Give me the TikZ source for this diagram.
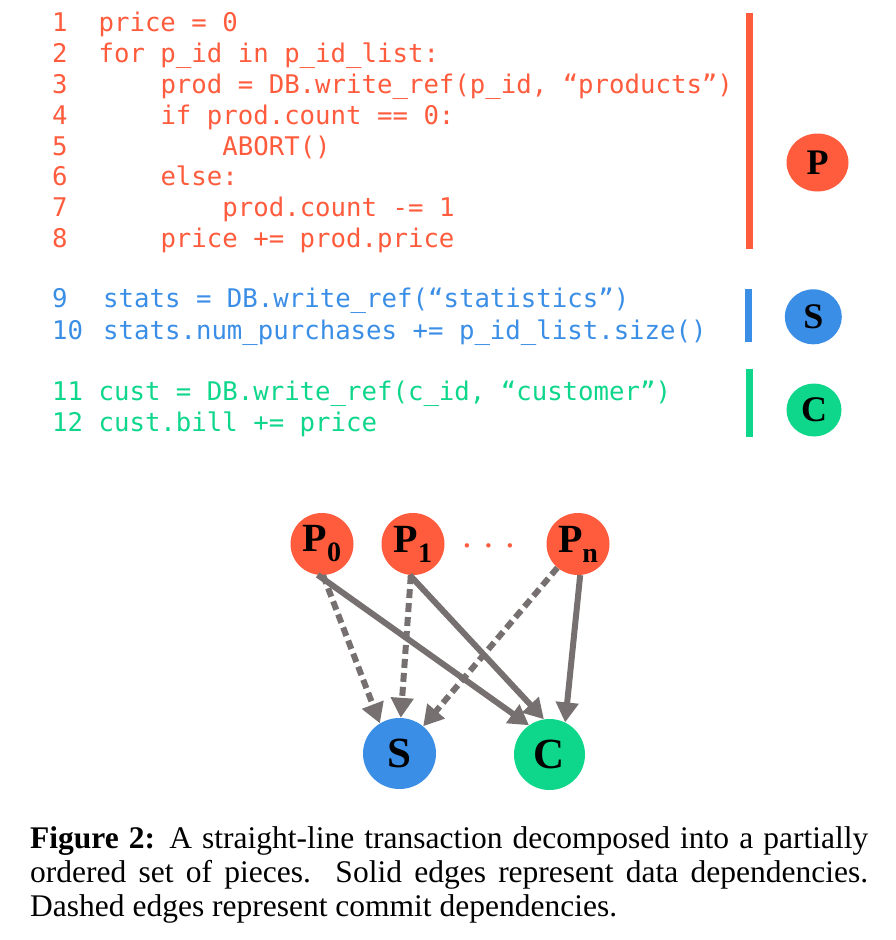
\documentclass[tikz,border=0pt]{standalone}
\usepackage{fontspec}
\setmainfont{Liberation Serif}
\newfontfamily\codefont{DejaVu Sans Mono}
\usetikzlibrary{shapes.geometric,arrows.meta}
\definecolor{pieceRed}{RGB}{255,91,61}
\definecolor{pieceBlue}{RGB}{59,142,230}
\definecolor{pieceGreen}{RGB}{14,214,138}
\definecolor{edgeGray}{RGB}{118,112,112}
\newcommand{\us}{\char95\relax}
\newcommand{\piecesub}[1]{P\raisebox{-10pt}{\fontsize{28}{28}\selectfont #1}}
\begin{document}
\begin{tikzpicture}[x=1pt, y=-1pt,
    codeline/.style={anchor=base west, inner sep=0, font=\fontsize{25.7}{31}\codefont},
    bar/.style={line width=6.5pt},
    piece/.style={ellipse, inner sep=0, font=\fontsize{36}{36}\selectfont\bfseries},
    dep/.style={draw=edgeGray, line width=6pt, -{Triangle[length=20pt, width=22pt]}},
    data/.style={dep},
    commit/.style={dep, dash pattern=on 9pt off 5pt}]
    \useasboundingbox (0,0) rectangle (896,940);
    % code, line numbers
    \foreach \n/\y/\c in {1/31/pieceRed, 2/62/pieceRed, 3/93/pieceRed, 4/124/pieceRed,
        5/155/pieceRed, 6/185/pieceRed, 7/216/pieceRed, 8/247/pieceRed,
        9/307/pieceBlue, 10/339/pieceBlue, 11/400/pieceGreen, 12/431/pieceGreen}
        \node[codeline, text=\c] (num\n) at (52,\y) {\n};
    \node[codeline, text=pieceRed] (line1) at (98.4,31) {price = 0};
    \node[codeline, text=pieceRed] (line2) at (98.4,62) {for p\us id in p\us id\us list:};
    \node[codeline, text=pieceRed] (line3) at (160.3,93) {prod = DB.write\us ref(p\us id, “products”)};
    \node[codeline, text=pieceRed] (line4) at (160.3,124) {if prod.count == 0:};
    \node[codeline, text=pieceRed] (line5) at (222.2,155) {ABORT()};
    \node[codeline, text=pieceRed] (line6) at (160.3,185) {else:};
    \node[codeline, text=pieceRed] (line7) at (222.2,216) {prod.count -= 1};
    \node[codeline, text=pieceRed] (line8) at (160.3,247) {price += prod.price};
    \node[codeline, text=pieceBlue] (line9) at (103,307) {stats = DB.write\us ref(“statistics”)};
    \node[codeline, text=pieceBlue] (line10) at (103,339) {stats.num\us purchases += p\us id\us list.size()};
    \node[codeline, text=pieceGreen] (line11) at (98.4,400) {cust = DB.write\us ref(c\us id, “customer”)};
    \node[codeline, text=pieceGreen] (line12) at (98.4,431) {cust.bill += price};
    % pieces
    \draw[bar, pieceRed] (749.5,13) -- (749.5,249);
    \draw[bar, pieceBlue] (748.5,289) -- (748.5,342);
    \draw[bar, pieceGreen] (749.5,369) -- (749.5,437);
    \node[piece, fill=pieceRed, minimum width=62pt, minimum height=58pt] (P) at (817.5,162.5) {P};
    \node[piece, fill=pieceBlue, minimum width=57pt, minimum height=55pt] (S) at (813.3,316.8) {S};
    \node[piece, fill=pieceGreen, minimum width=55pt, minimum height=53pt] (C) at (814,410) {C};
    % graph
    \node[piece, fill=pieceRed, minimum width=63pt, minimum height=62pt, font=\fontsize{40}{40}\selectfont\bfseries] (P0) at (322,544) {\piecesub{0}};
    \node[piece, fill=pieceRed, minimum width=63pt, minimum height=62pt, font=\fontsize{40}{40}\selectfont\bfseries] (P1) at (413,544) {\piecesub{1}};
    \node[piece, fill=pieceRed, minimum width=63pt, minimum height=62pt, font=\fontsize{40}{40}\selectfont\bfseries] (Pn) at (578,544) {\piecesub{n}};
    \node[anchor=base, inner sep=0, text=pieceRed, font=\fontsize{37}{37}\selectfont] (dots) at (488.5,547) {. . .};
    \node[piece, fill=pieceBlue, minimum width=73pt, minimum height=71pt, font=\fontsize{43}{43}\selectfont\bfseries] (Sg) at (399.5,753.5) {S};
    \node[piece, fill=pieceGreen, minimum width=71pt, minimum height=71pt, font=\fontsize{43}{43}\selectfont\bfseries] (Cg) at (549.5,754.5) {C};
    \draw[commit] (P0.-88) -- (Sg.123);
    \draw[data] (P0.-98) -- (Cg.125);
    \draw[commit] (P1.-94) -- (Sg.88);
    \draw[data] (P1.-96) -- (Cg.99);
    \draw[commit] (Pn.-131) -- (Sg.49);
    \draw[data] (Pn.-86) -- (Cg.64);
    % caption
    \node[anchor=base west, inner sep=0, text width=838pt, align=justify,
        font=\fontsize{31.5}{34}\selectfont] (caption) at (30,848)
        {\hyphenpenalty=10000 \exhyphenpenalty=10000
        \textbf{Figure 2:}\hspace{0.45em}A straight-line transaction decomposed into a partially\linebreak
        ordered set of pieces.\ \ Solid edges represent data dependencies.\linebreak
        Dashed edges represent commit dependencies.};
\end{tikzpicture}
\end{document}
